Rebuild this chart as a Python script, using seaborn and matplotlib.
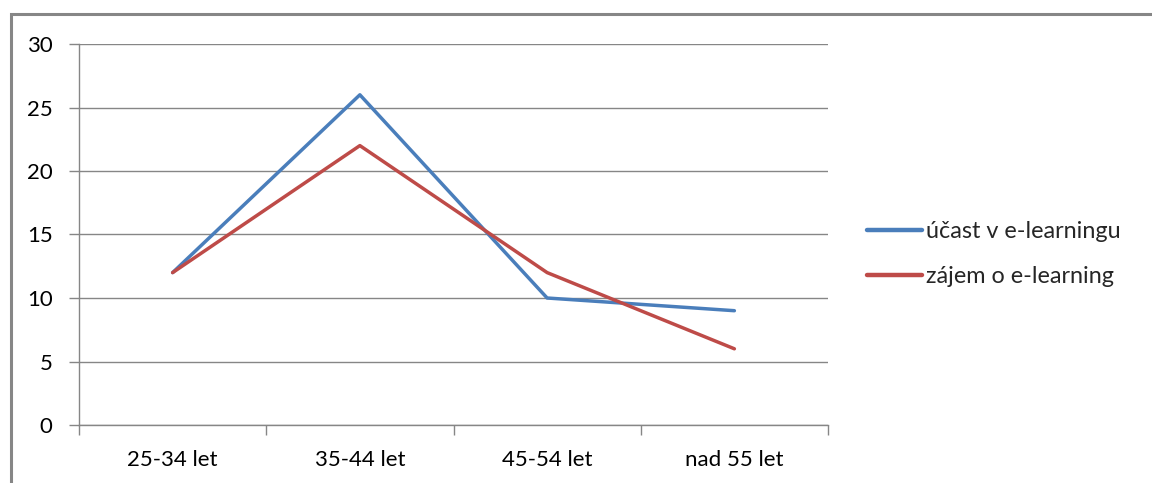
import matplotlib
matplotlib.use("Agg")
import matplotlib.pyplot as plt
import seaborn as sns
import pandas as pd
from matplotlib.patches import Rectangle
from matplotlib.lines import Line2D

categories = ["25-34 let", "35-44 let", "45-54 let", "nad 55 let"]
ucast = [12, 26, 10, 9]
zajem = [12, 22, 12, 6]
series_names = ["účast v e-learningu", "zájem o e-learning"]
y_ticks = [0, 5, 10, 15, 20, 25, 30]

sns.set_theme(style="white")
plt.rcParams['font.family'] = ['Lato', 'DejaVu Sans']

df = pd.DataFrame({
    "x": list(range(len(categories))) * 2,
    "value": ucast + zajem,
    "series": [series_names[0]] * len(ucast) + [series_names[1]] * len(zajem),
})

W, H = 1152, 483
fig = plt.figure(figsize=(W / 100, H / 100), dpi=100)
ax = fig.add_axes([79 / W, 1 - 425 / H, (828 - 79) / W, (425 - 44) / H])

palette = {series_names[0]: "#4A7EBB", series_names[1]: "#BE4B48"}
sns.lineplot(data=df, x="x", y="value", hue="series", palette=palette,
             linewidth=2.5, ax=ax, legend=False)

gray = "#868686"
ax.set_xlim(-0.5, len(categories) - 0.5)
ax.set_ylim(0, 30)
ax.set_yticks(y_ticks)
ax.set_yticklabels([str(v) for v in y_ticks])
ax.yaxis.grid(True, color=gray, linewidth=1)
ax.set_axisbelow(True)
for s in ["top", "right"]:
    ax.spines[s].set_visible(False)
for s in ["left", "bottom"]:
    ax.spines[s].set_color(gray)
    ax.spines[s].set_linewidth(1)

ax.set_xticks([i - 0.5 for i in range(len(categories) + 1)])
ax.set_xticklabels([])
ax.set_xticks(range(len(categories)), minor=True)
ax.set_xticklabels(categories, minor=True)
ax.tick_params(axis="x", which="major", length=7, color=gray, width=1, direction="out", bottom=True)
ax.tick_params(axis="x", which="minor", length=0, pad=18, labelsize=16, labelcolor="black")
ax.tick_params(axis="y", length=7, color=gray, width=1, direction="out", left=True,
               pad=12, labelsize=16, labelcolor="black")
ax.set_xlabel("")
ax.set_ylabel("")

handles = [Line2D([], [], color=palette[n], linewidth=3.2) for n in series_names]
fig.legend(handles, series_names, loc="center left",
           bbox_to_anchor=(862 / W, 1 - 254 / H), frameon=False,
           fontsize=16.8, handlelength=2.35, handletextpad=0.2, labelspacing=1.05,
           borderaxespad=0, borderpad=0.2)

fig.patches.append(Rectangle((10.5 / W, -0.1), 1.2, 1.1 - 14.5 / H,
                             transform=fig.transFigure, fill=False,
                             edgecolor=gray, linewidth=2.2, figure=fig))

fig.savefig("out.png", dpi=100, facecolor="white")
